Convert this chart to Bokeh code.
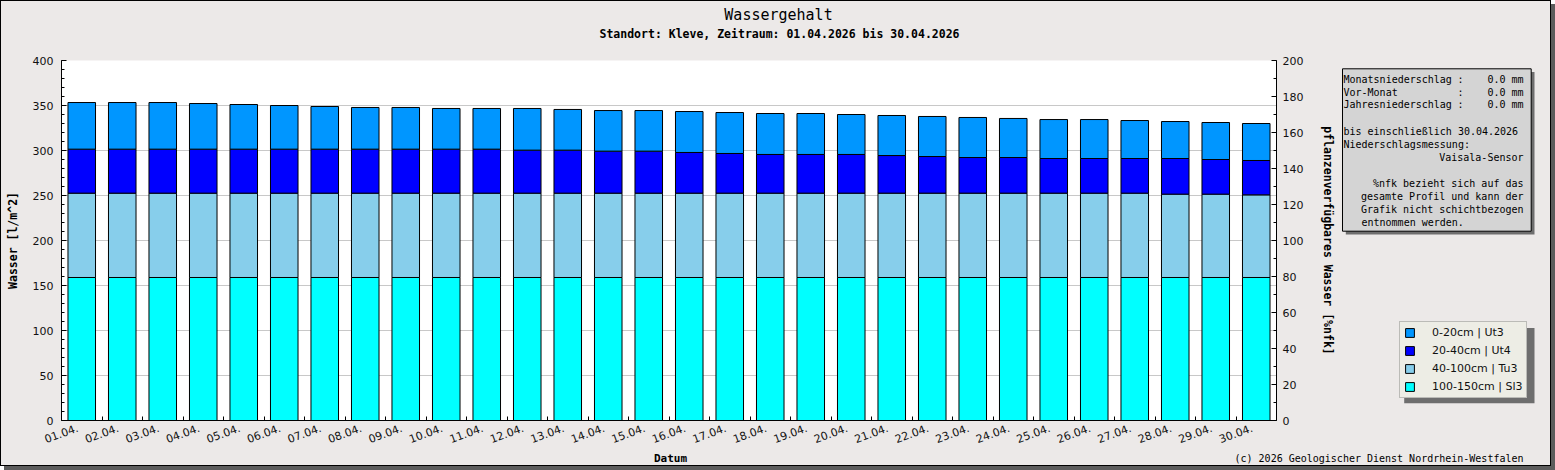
from bokeh.plotting import figure
from bokeh.layouts import column, row
from bokeh.models import (ColumnDataSource, Range1d, LinearAxis, SingleIntervalTicker,
                          FixedTicker, Legend, LegendItem, Label, BoxAnnotation)
from bokeh.embed import file_html
from bokeh.resources import INLINE

# ---------------- data ----------------
days = ["01.04.", "02.04.", "03.04.", "04.04.", "05.04.", "06.04.", "07.04.", "08.04.",
        "09.04.", "10.04.", "11.04.", "12.04.", "13.04.", "14.04.", "15.04.", "16.04.",
        "17.04.", "18.04.", "19.04.", "20.04.", "21.04.", "22.04.", "23.04.", "24.04.",
        "25.04.", "26.04.", "27.04.", "28.04.", "29.04.", "30.04."]

layer_names = ["0-20cm | Ut3", "20-40cm | Ut4", "40-100cm | Tu3", "100-150cm | Sl3"]
layer_colors = ["#0096FF", "#0000FF", "#87CEEB", "#00FFFF"]

w_0_20 = [51.8, 51.8, 51.8, 50.7, 49.6, 48.5, 47.4, 46.3, 46.3, 45.2, 45.2, 46.3, 45.2, 45.1, 45.1,
          45.5, 45.5, 45.5, 45.5, 44.4, 44.5, 44.5, 44.5, 43.4, 43.3, 43.3, 42.2, 41.1, 41.1, 41.1]
w_20_40 = [48.9, 48.9, 48.9, 48.9, 48.9, 48.9, 48.9, 48.9, 48.9, 48.9, 48.9, 47.8, 47.8, 46.7, 46.7,
           45.2, 44.1, 43.0, 43.0, 43.0, 41.8, 40.7, 39.6, 39.6, 38.5, 38.5, 38.5, 39.6, 38.5, 38.2]
w_40_100 = [93.7, 93.7, 93.7, 93.7, 93.7, 93.7, 93.7, 93.7, 93.7, 93.7, 93.7, 93.7, 93.7, 93.7, 93.7,
            93.7, 93.7, 93.7, 93.7, 93.7, 93.7, 93.7, 93.7, 93.7, 93.7, 93.7, 93.7, 92.6, 92.6, 91.8]
w_100_150 = [158.9, 158.9, 158.9, 158.9, 158.9, 158.9, 158.9, 158.9, 158.9, 158.9, 158.9, 158.9,
             158.9, 158.9, 158.9, 158.9, 158.9, 158.9, 158.9, 158.9, 158.9, 158.9, 158.9, 158.9,
             158.9, 158.9, 158.9, 158.9, 158.9, 158.9]

title_text = "Wassergehalt"
subtitle_text = "Standort: Kleve, Zeitraum: 01.04.2026 bis 30.04.2026"
x_title = "Datum"
y_title = "Wasser [l/m^2]"
y2_title = "pflanzenverfügbares Wasser [%nfk]"
copyright_text = "(c) 2026 Geologischer Dienst Nordrhein-Westfalen"
precip_names = ["Monatsniederschlag", "Vor-Monat", "Jahresniederschlag"]
precip_values = [0.0, 0.0, 0.0]
info_lines_left = ["bis einschließlich 30.04.2026", "Niederschlagsmessung:"]
info_lines_right = ["Vaisala-Sensor",
                    "%nfk bezieht sich auf das",
                    "gesamte Profil und kann der",
                    "Grafik nicht schichtbezogen"]
info_last_line = "entnommen werden."

# ---------------- styling ----------------
BG = "#ECE9E8"
MONO = "DejaVu Sans Mono"
SANS = "DejaVu Sans"
TOTAL_W = 1549
MAIN_W = 1337
TOP_H = 49
MAIN_H = 402
BOTTOM_H = 464 - TOP_H - MAIN_H


def strip(w, h, yr=None):
    f = figure(width=w, height=h, output_backend="svg", toolbar_location=None,
               x_range=Range1d(0, w), y_range=Range1d(0, yr if yr else h),
               x_axis_type=None, y_axis_type=None,
               min_border=0, min_border_left=0, min_border_right=0,
               min_border_top=0, min_border_bottom=0,
               border_fill_color=BG, background_fill_color=BG, outline_line_color=None)
    f.grid.visible = False
    return f


def lab(fig, text, x, y, align="left", size="10px", style="normal"):
    fig.add_layout(Label(x=x, y=y, text=text, text_align=align, text_baseline="middle",
                         text_font=MONO, text_font_size=size, text_font_style=style,
                         text_color="black"))


# ---------------- top strip (titles) ----------------
top = strip(TOTAL_W, TOP_H)
lab(top, title_text, 777, 36, align="center", size="15px")
lab(top, subtitle_text, 778, 17, align="center", size="11.5px", style="bold")

# ---------------- main chart ----------------
n = len(days)
centers = [i + 0.5 for i in range(n)]
label_pos = [c - 0.1 for c in centers]
bounds = [i + 1 for i in range(n - 1)]
src = ColumnDataSource(dict(x=centers, l4=w_100_150, l3=w_40_100, l2=w_20_40, l1=w_0_20))

main = figure(width=MAIN_W, height=MAIN_H, output_backend="svg", toolbar_location=None,
              x_range=Range1d(0, n), y_range=Range1d(0, 400),
              min_border_left=60, min_border_right=58, min_border_top=10,
              min_border_bottom=MAIN_H - 370,
              border_fill_color=BG, background_fill_color="white", outline_line_color=None)
main.extra_y_ranges = {"pct": Range1d(0, 200)}

bars = main.vbar_stack(["l4", "l3", "l2", "l1"], x="x", width=0.68, source=src,
                       fill_color=layer_colors[::-1], line_color="black", line_width=1)

main.xgrid.visible = False
main.ygrid.grid_line_color = "#C8C8C8"
main.ygrid.grid_line_width = 1

ya = main.yaxis[0]
ya.ticker = SingleIntervalTicker(interval=50, num_minor_ticks=5)
ya.axis_label = y_title
ra = LinearAxis(y_range_name="pct", ticker=SingleIntervalTicker(interval=20, num_minor_ticks=2),
                axis_label=y2_title)
main.add_layout(ra, "right")
for ax in (ya, ra):
    ax.major_tick_in = 5
    ax.major_tick_out = 0
    ax.minor_tick_in = 3
    ax.minor_tick_out = 0
    ax.axis_line_color = "black"
    ax.major_tick_line_color = "black"
    ax.minor_tick_line_color = "black"
    ax.major_label_text_font = SANS
    ax.major_label_text_font_size = "11px"
    ax.major_label_text_color = "#111111"
    ax.axis_label_text_font = MONO
    ax.axis_label_text_font_style = "bold"
    ax.axis_label_text_font_size = "11.5px"
    ax.axis_label_text_color = "black"
ya.major_label_standoff = 8
ya.axis_label_standoff = 10
ra.major_label_standoff = 6
ra.axis_label_standoff = 15

xa = main.xaxis[0]
xa.ticker = FixedTicker(ticks=label_pos, minor_ticks=bounds)
xa.major_label_overrides = {c: d for c, d in zip(label_pos, days)}
xa.major_label_orientation = 0.35
xa.major_tick_in = 0
xa.major_tick_out = 0
xa.minor_tick_in = 4
xa.minor_tick_out = 0
xa.axis_line_color = "black"
xa.minor_tick_line_color = "black"
xa.major_label_text_font = SANS
xa.major_label_text_font_size = "11px"
xa.major_label_text_color = "#111111"
xa.major_label_standoff = 7

# ---------------- side panel (info box + legend) ----------------
# frame of this panel is aligned with the main frame: 1 unit = 1 px
side = strip(TOTAL_W - MAIN_W, MAIN_H, yr=360)

side.add_layout(BoxAnnotation(left=7.3, right=196, top=348.4, bottom=186,
                              fill_color="#6E6E6E", fill_alpha=1, line_color=None))
side.add_layout(BoxAnnotation(left=4, right=192.7, top=351.7, bottom=189.3,
                              fill_color="#D4D4D4", fill_alpha=1, line_color="black",
                              line_alpha=1, line_width=1))
for nm, v, yy in zip(precip_names, precip_values, [340.7, 327.7, 315.7]):
    lab(side, nm, 5, yy)
    lab(side, ":", 119, yy)
    lab(side, f"{v:.1f} mm", 185, yy, align="right")
for t, yy in zip(info_lines_left, [289.3, 275.7]):
    lab(side, t, 5, yy)
for t, yy in zip(info_lines_right, [263, 236.7, 224, 211]):
    lab(side, t, 185, yy, align="right")
lab(side, info_last_line, 23, 197.7)

# legend proxies: same data and style as the bars, not drawn (visible=False)
proxies = [side.vbar(x="x", top=col, width=0.68, source=src, visible=False,
                     fill_color=c, line_color="black", line_width=1)
           for col, c in zip(["l1", "l2", "l3", "l4"], layer_colors)]
side.add_layout(BoxAnnotation(left=65.7, right=196, top=92.5, bottom=17.3,
                              fill_color="#6E6E6E", fill_alpha=1, line_color=None))
legend = Legend(items=[LegendItem(label=nm, renderers=[r]) for nm, r in zip(layer_names, proxies)],
                location=(61, 22), orientation="vertical", click_policy="none",
                padding=4, margin=0, spacing=5,
                glyph_width=11, glyph_height=11, label_height=13, label_standoff=17,
                label_text_font=SANS, label_text_font_size="11px", label_text_color="#111111",
                background_fill_color="#EDEDE5", background_fill_alpha=1,
                border_line_color="#8A8A8A", border_line_width=1)
side.add_layout(legend)

# ---------------- bottom strip ----------------
bottom = strip(TOTAL_W, BOTTOM_H)
lab(bottom, x_title, 669, 7, align="center", size="11px", style="bold")
lab(bottom, copyright_text, 1522, 7.5, align="right", size="10px")

page = column(top, row(main, side, spacing=0), bottom, spacing=0)
page.styles = {"border": "1px solid black", "box-shadow": "4px 4px 0px #5c5c5c",
               "background-color": BG}

open("out.html", "w").write(file_html(page, INLINE))
